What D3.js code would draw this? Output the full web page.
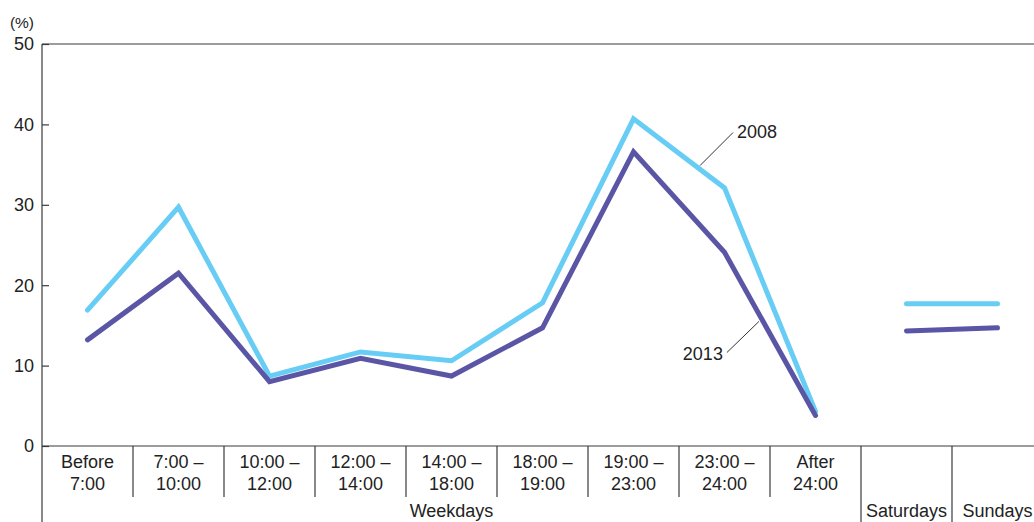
<!DOCTYPE html>
<html>
<head>
<meta charset="utf-8">
<script src="https://cdn.jsdelivr.net/npm/d3@7"></script>
<style>
  html, body { margin: 0; padding: 0; background: #fff; }
  svg { display: block; font-family: "Liberation Sans", Arial, Helvetica, sans-serif; }
</style>
</head>
<body>
<svg id="chart" width="1034" height="522"></svg>
<script>
// Time slots (weekday columns) followed by the two weekend columns
const weekdaySlots = [
  ["Before", "7:00"], ["7:00 –", "10:00"], ["10:00 –", "12:00"], ["12:00 –", "14:00"],
  ["14:00 –", "18:00"], ["18:00 –", "19:00"], ["19:00 –", "23:00"], ["23:00 –", "24:00"],
  ["After", "24:00"]
];
const weekendDays = ["Saturdays", "Sundays"];
const groupLabel = "Weekdays";

// Share of respondents (%)
const weekday2008 = [16.9, 29.7, 8.7, 11.7, 10.6, 17.8, 40.7, 32.1, 4.3];
const weekday2013 = [13.2, 21.5, 8.0, 10.9, 8.7, 14.7, 36.6, 24.1, 3.8];
const weekend2008 = [17.7, 17.7];
const weekend2013 = [14.3, 14.7];

const yTicks = [0, 10, 20, 30, 40, 50];
const yUnit = "(%)";

const colors = { y2008: "#67cdf5", y2013: "#5a55a5" };
const axisColor = "#3a3a3a";
const textColor = "#222";
const fontSize = 18;

const svg = d3.select("#chart");
const plotLeft = 42, plotTop = 44, plotBottom = 446, colW = 91;

const keys = weekdaySlots.map((d, i) => "w" + i).concat(weekendDays);
const x = d3.scaleBand().domain(keys).range([plotLeft, plotLeft + colW * keys.length]).padding(0);
const y = d3.scaleLinear().domain([0, 50]).range([plotBottom, plotTop]);
const cx = k => x(k) + x.bandwidth() / 2;

// Frame: top rule, baseline, and left axis running down through the label rows
svg.append("line").attr("x1", plotLeft).attr("x2", 1034).attr("y1", y(50)).attr("y2", y(50))
  .attr("stroke", axisColor).attr("stroke-width", 1.2);
svg.append("line").attr("x1", plotLeft).attr("x2", 1034).attr("y1", y(0)).attr("y2", y(0))
  .attr("stroke", axisColor).attr("stroke-width", 1.2);

const yAxis = d3.axisRight(y).tickValues(yTicks).tickSize(7).tickFormat("");
const gy = svg.append("g").attr("transform", `translate(${plotLeft},0)`).call(yAxis);
gy.select(".domain").remove();
gy.selectAll(".tick line").attr("stroke", axisColor).attr("stroke-width", 1.2);
svg.append("line").attr("x1", plotLeft).attr("x2", plotLeft).attr("y1", y(50)).attr("y2", 522)
  .attr("stroke", axisColor).attr("stroke-width", 1.2);

// Y tick labels
svg.append("g").selectAll("text").data(yTicks).join("text")
  .attr("x", plotLeft - 8).attr("y", d => y(d)).attr("dy", "0.36em")
  .attr("text-anchor", "end").attr("font-size", fontSize).attr("fill", textColor)
  .text(d => d);
svg.append("text").attr("x", plotLeft - 8).attr("y", y(50) - 22).attr("dy", "0.36em")
  .attr("text-anchor", "end").attr("font-size", 15.5).attr("fill", textColor).text(yUnit);

// Column dividers under the baseline
const dividers = keys.slice(1);
svg.append("g").selectAll("line").data(dividers).join("line")
  .attr("x1", d => x(d)).attr("x2", d => x(d))
  .attr("y1", y(0)).attr("y2", d => (d === "Saturdays" || d === "Sundays") ? 522 : 497)
  .attr("stroke", axisColor).attr("stroke-width", 1.2);

// Weekday slot labels (two lines)
const slotG = svg.append("g").attr("font-size", fontSize).attr("fill", textColor).attr("text-anchor", "middle");
weekdaySlots.forEach((lines, i) => {
  const t = slotG.append("text").attr("x", cx("w" + i)).attr("y", y(0) + 22);
  lines.forEach((ln, j) => t.append("tspan").attr("x", cx("w" + i)).attr("dy", j === 0 ? 0 : 22).text(ln));
});
svg.append("text").attr("x", (x("w0") + x("Saturdays")) / 2).attr("y", 517)
  .attr("text-anchor", "middle").attr("font-size", fontSize).attr("fill", textColor).text(groupLabel);
svg.append("g").selectAll("text").data(weekendDays).join("text")
  .attr("x", d => cx(d)).attr("y", 517).attr("text-anchor", "middle")
  .attr("font-size", fontSize).attr("fill", textColor).text(d => d);

// Lines
const line = d3.line().x(d => cx(d.k)).y(d => y(d.v));
const wk = vals => vals.map((v, i) => ({ k: "w" + i, v }));
const we = vals => vals.map((v, i) => ({ k: weekendDays[i], v }));

const series = [
  { data: wk(weekday2008), c: colors.y2008 },
  { data: we(weekend2008), c: colors.y2008 },
  { data: wk(weekday2013), c: colors.y2013 },
  { data: we(weekend2013), c: colors.y2013 }
];
svg.append("g").selectAll("path").data(series).join("path")
  .attr("d", d => line(d.data)).attr("fill", "none")
  .attr("stroke", d => d.c).attr("stroke-width", 5)
  .attr("stroke-linecap", "round").attr("stroke-linejoin", "miter");

// Series labels with leader lines anchored on the lines
function pointAlong(vals, i, t) {
  const x0 = cx("w" + i), x1 = cx("w" + (i + 1));
  const y0 = y(vals[i]), y1 = y(vals[i + 1]);
  return [x0 + (x1 - x0) * t, y0 + (y1 - y0) * t];
}
const a08 = pointAlong(weekday2008, 6, 0.72);
svg.append("line").attr("x1", a08[0] + 1).attr("y1", a08[1] - 3)
  .attr("x2", a08[0] + 34).attr("y2", a08[1] - 36)
  .attr("stroke", "#333").attr("stroke-width", 1);
svg.append("text").attr("x", a08[0] + 38).attr("y", a08[1] - 37).attr("dy", "0.36em")
  .attr("font-size", fontSize).attr("fill", textColor).text("2008");

const a13 = pointAlong(weekday2013, 7, 0.40);
svg.append("line").attr("x1", a13[0] - 2).attr("y1", a13[1] + 4)
  .attr("x2", a13[0] - 34).attr("y2", a13[1] + 35)
  .attr("stroke", "#333").attr("stroke-width", 1);
svg.append("text").attr("x", a13[0] - 38).attr("y", a13[1] + 36).attr("dy", "0.36em")
  .attr("text-anchor", "end").attr("font-size", fontSize).attr("fill", textColor).text("2013");
</script>
</body>
</html>
